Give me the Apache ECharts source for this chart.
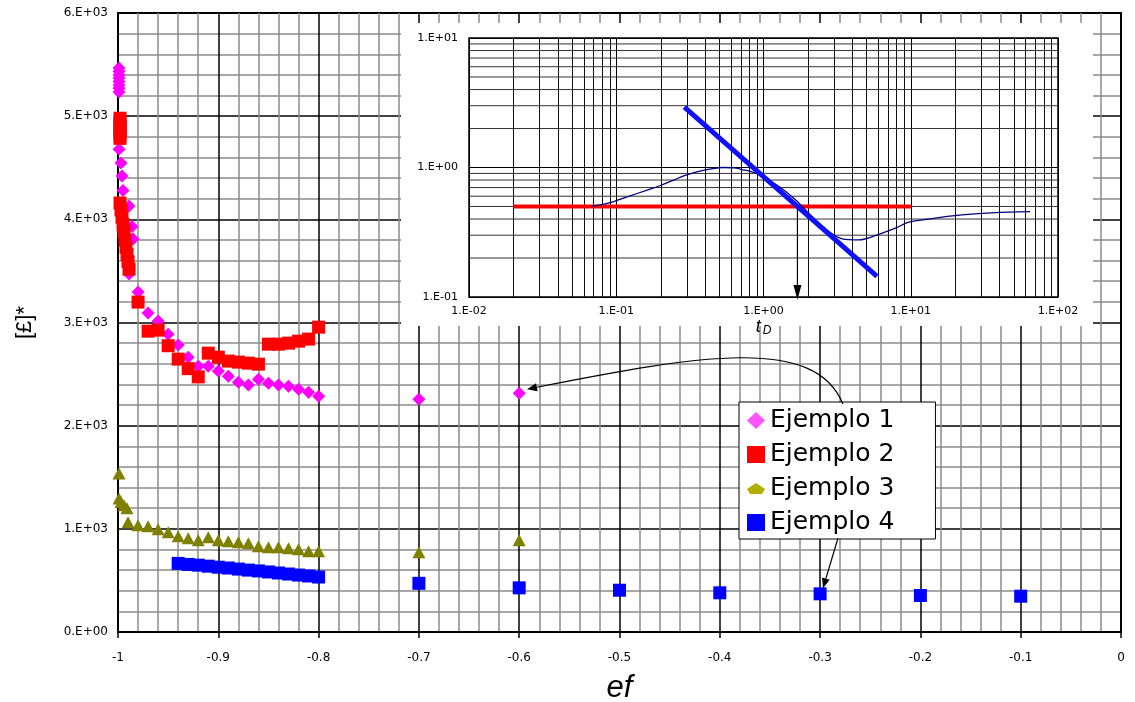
<!DOCTYPE html>
<html><head><meta charset="utf-8">
<script src="https://cdn.jsdelivr.net/npm/echarts@6/dist/echarts.min.js"></script>
<style>html,body{margin:0;padding:0;background:#fff}#c{width:1135px;height:702px}</style>
</head><body><div id="c"></div>
<script>
// ---- data ----
const seriesNames = ['Ejemplo 1', 'Ejemplo 2', 'Ejemplo 3', 'Ejemplo 4'];
const yTickLabels = ['0.E+00', '1.E+03', '2.E+03', '3.E+03', '4.E+03', '5.E+03', '6.E+03'];
const insetXLabels = ['1.E-02', '1.E-01', '1.E+00', '1.E+01', '1.E+02'];
const insetYLabels = ['1.E-01', '1.E+00', '1.E+01'];

const ej1 = [[-0.999,5468],[-0.999,5435],[-0.999,5400],[-0.999,5370],[-0.999,5335],[-0.999,5300],[-0.999,5270],[-0.999,5235],
  [-0.999,4680],[-0.997,4545],[-0.996,4420],[-0.995,4280],[-0.989,4130],[-0.986,3930],[-0.985,3810],[-0.989,3470],
  [-0.98,3295],[-0.97,3091],[-0.96,3014],[-0.95,2887],[-0.94,2781],[-0.93,2664],[-0.92,2577],[-0.91,2577],[-0.90,2529],
  [-0.89,2480],[-0.88,2422],[-0.87,2393],[-0.86,2451],[-0.85,2412],[-0.84,2393],[-0.83,2383],[-0.82,2354],[-0.81,2325],
  [-0.80,2286],[-0.7,2257],[-0.6,2315]];
const ej2 = [[-0.998,4980],[-0.998,4950],[-0.998,4915],[-0.998,4880],[-0.998,4850],[-0.998,4815],[-0.998,4785],
  [-0.998,4158],[-0.997,4090],[-0.996,4020],[-0.995,3950],[-0.994,3880],[-0.993,3800],[-0.992,3730],[-0.991,3660],
  [-0.990,3590],[-0.989,3517],
  [-0.98,3198],[-0.97,2916],[-0.96,2926],[-0.95,2775],[-0.94,2645],[-0.93,2553],[-0.92,2473],[-0.91,2703],[-0.90,2664],
  [-0.89,2626],[-0.88,2616],[-0.87,2606],[-0.86,2596],[-0.85,2790],[-0.84,2790],[-0.83,2800],[-0.82,2819],[-0.81,2839],
  [-0.80,2955]];
const ej3 = [[-0.999,1536],[-0.999,1294],[-0.997,1261],[-0.994,1229],[-0.991,1200],
  [-0.99,1064],[-0.98,1035],[-0.97,1025],[-0.96,996],[-0.95,967],[-0.94,928],[-0.93,909],[-0.92,889],[-0.91,918],
  [-0.90,889],[-0.89,880],[-0.88,870],[-0.87,860],[-0.86,831],[-0.85,822],[-0.84,822],[-0.83,812],[-0.82,802],
  [-0.81,783],[-0.80,783],[-0.7,773],[-0.6,889]];
const ej4 = [[-0.94,665],[-0.93,655],[-0.92,648],[-0.91,638],[-0.90,628],[-0.89,620],[-0.88,610],[-0.87,600],
  [-0.86,592],[-0.85,582],[-0.84,572],[-0.83,562],[-0.82,552],[-0.81,543],[-0.80,533],
  [-0.7,472],[-0.6,428],[-0.5,405],[-0.4,380],[-0.3,370],[-0.2,354],[-0.1,347]];

// inset (log-log) data
const insetRedLine = [[0.02,0.5],[10,0.5]];
const insetBlueLine = [[0.29,2.93],[5.9,0.144]];
const insetCurve = [[0.068,0.5],[0.0878,0.53],[0.12,0.596],[0.164,0.672],[0.2,0.726],[0.248,0.803],[0.29,0.867],
  [0.357,0.931],[0.44,0.977],[0.54,1.0],[0.632,0.995],[0.72,0.96],[0.8,0.94],[0.983,0.852],[1.275,0.713],
  [1.654,0.562],[2.14,0.418],[2.78,0.32],[3.42,0.281],[4.44,0.276],[6.06,0.305],[7.87,0.34],[9.68,0.378],
  [13.2,0.40],[22.2,0.43],[37.4,0.449],[64.6,0.457]];
const insetArrow = [[1.7,0.5,1.7,0.5,1.7,0.5,1.7,0.095]];

// annotation arrows in main chart: start, ctrl1, ctrl2, end(head)
const mainArrows = [
  [-0.2772,2209, -0.3051,2878, -0.4197,2684, -0.5922,2354],
  [-0.2822,909, -0.2822,909, -0.2822,909, -0.2971,424]
];

// ---- chart ----
function makeArrowRender(headLen, headHalf, lw) {
  return function (params, api) {
    const a = api.coord([api.value(0), api.value(1)]);
    const c1 = api.coord([api.value(2), api.value(3)]);
    const c2 = api.coord([api.value(4), api.value(5)]);
    const b = api.coord([api.value(6), api.value(7)]);
    const dx = b[0] - c2[0], dy = b[1] - c2[1];
    const len = Math.hypot(dx, dy) || 1;
    const ux = dx / len, uy = dy / len;
    const base = [b[0] - ux * headLen, b[1] - uy * headLen];
    const pts = [b, [base[0] - uy * headHalf, base[1] + ux * headHalf], [base[0] + uy * headHalf, base[1] - ux * headHalf]];
    return {
      type: 'group',
      children: [
        { type: 'bezierCurve', shape: { x1: a[0], y1: a[1], cpx1: c1[0], cpy1: c1[1], cpx2: c2[0], cpy2: c2[1], x2: base[0], y2: base[1] },
          style: { stroke: '#000', lineWidth: lw, fill: null } },
        { type: 'polygon', shape: { points: pts }, style: { fill: '#000' } }
      ]
    };
  };
}

// inset log grid lines (2..9 within each decade)
const insetGrid = [];
for (let e = -2; e < 2; e++) for (let m = 2; m <= 9; m++) { const v = m * Math.pow(10, e); insetGrid.push([v, 0.1, v, 10]); }
for (let e = -1; e < 1; e++) for (let m = 2; m <= 9; m++) { const v = m * Math.pow(10, e); insetGrid.push([0.01, v, 100, v]); }

function gridLineRender(params, api) {
  const p1 = api.coord([api.value(0), api.value(1)]);
  const p2 = api.coord([api.value(2), api.value(3)]);
  const vert = Math.abs(p1[0] - p2[0]) < 0.5;
  return { type: 'line', shape: { x1: Math.round(p1[0]) + 0.5, y1: p1[1], x2: Math.round(p2[0]) + (vert ? 0.5 : 0), y2: p2[1] },
    style: { stroke: vert ? '#111' : '#333', lineWidth: 1 } };
}

const chart = echarts.init(document.getElementById('c'), null, { renderer: 'canvas' });
const FF = 'DejaVu Sans';
chart.setOption({
  animation: false,
  backgroundColor: '#fff',
  grid: [
    { left: 118, right: 14, top: 13, bottom: 70, outerBoundsMode: 'none', containLabel: false,
      show: true, borderColor: '#000', borderWidth: 2 },
    { left: 469, right: 77, top: 38, bottom: 405, outerBoundsMode: 'none', containLabel: false,
      show: true, borderColor: '#000', borderWidth: 1.5, backgroundColor: '#fff', zlevel: 1, z: 1 }
  ],
  graphic: [
    { type: 'rect', zlevel: 1, z: 0, shape: { x: 401, y: 23, width: 692, height: 303 }, style: { fill: '#fff' } }
  ],
  legend: {
    left: 739, top: 402, orient: 'vertical', backgroundColor: '#fff', borderColor: '#000', borderWidth: 1,
    padding: [6, 41, 4, 8], itemGap: 9, itemWidth: 18, itemHeight: 17, selectedMode: false,
    textStyle: { fontFamily: FF, fontSize: 25, color: '#000', lineHeight: 25 },
    data: [
      { name: seriesNames[0], icon: 'diamond', itemStyle: { color: '#FF55FF' } },
      { name: seriesNames[1], icon: 'rect', itemStyle: { color: '#FF0000' } },
      { name: seriesNames[2], icon: 'path://M0,6 L9,0 L18,6 L15,11 L3,11 Z', itemStyle: { color: '#B3AE00' } },
      { name: seriesNames[3], icon: 'rect', itemStyle: { color: '#0000FF' } }
    ]
  },
  xAxis: [
    { type: 'value', gridIndex: 0, min: -1, max: 0, interval: 0.1,
      name: 'ef', nameLocation: 'middle', nameGap: 41,
      nameTextStyle: { fontFamily: 'Liberation Sans', fontStyle: 'italic', fontSize: 31, color: '#000' },
      axisLine: { show: true, onZero: false, lineStyle: { color: '#000', width: 2 } },
      axisTick: { show: true, length: 6, lineStyle: { color: '#000', width: 1.5 } },
      axisLabel: { margin: 20, fontFamily: FF, fontSize: 12, color: '#000' },
      splitLine: { show: true, lineStyle: { color: '#000', width: 1.5 } },
      minorTick: { show: false, splitNumber: 5 },
      minorSplitLine: { show: true, lineStyle: { color: '#8c8c8c', width: 1.5 } } },
    { type: 'log', gridIndex: 1, logBase: 10, min: 0.01, max: 100, splitNumber: 4, zlevel: 1, z: 2,
      name: '{t|t}{d|D}', nameLocation: 'middle', nameGap: 20,
      nameTextStyle: { rich: {
        t: { fontFamily: 'Liberation Sans', fontStyle: 'italic', fontSize: 18, color: '#000', lineHeight: 20 },
        d: { fontFamily: 'Liberation Sans', fontStyle: 'italic', fontSize: 12, color: '#000', verticalAlign: 'bottom', padding: [8, 0, 0, 2] } } },
      axisLine: { show: false }, axisTick: { show: false },
      axisLabel: { margin: 9, fontFamily: FF, fontSize: 11, color: '#000',
        formatter: v => insetXLabels[Math.round(Math.log10(v)) + 2] },
      splitLine: { show: true, lineStyle: { color: '#000', width: 1 } } }
  ],
  yAxis: [
    { type: 'value', gridIndex: 0, min: 0, max: 6000, interval: 1000,
      name: '[£]*', nameLocation: 'middle', nameGap: 82, nameRotate: 90,
      nameTextStyle: { fontFamily: 'Liberation Sans', fontSize: 22, color: '#000' },
      axisLine: { show: true, lineStyle: { color: '#000', width: 2 } },
      axisTick: { show: false },
      axisLabel: { margin: 10, fontFamily: FF, fontSize: 12, color: '#000',
        formatter: v => yTickLabels[Math.round(v / 1000)] },
      splitLine: { show: true, lineStyle: { color: '#000', width: 1.5 } },
      minorTick: { show: false, splitNumber: 5 },
      minorSplitLine: { show: true, lineStyle: { color: '#8c8c8c', width: 1.5 } } },
    { type: 'log', gridIndex: 1, logBase: 10, min: 0.1, max: 10, splitNumber: 2, zlevel: 1, z: 2,
      axisLine: { show: false }, axisTick: { show: false },
      axisLabel: { margin: 11, fontFamily: FF, fontSize: 11, color: '#000',
        formatter: v => insetYLabels[Math.round(Math.log10(v)) + 1] },
      splitLine: { show: true, lineStyle: { color: '#000', width: 1 } } }
  ],
  series: [
    { name: seriesNames[0], type: 'scatter', data: ej1, symbol: 'diamond', symbolSize: 13,
      itemStyle: { color: '#FF00FF', opacity: 1 }, z: 3 },
    { name: seriesNames[1], type: 'scatter', data: ej2, symbol: 'rect', symbolSize: 13,
      itemStyle: { color: '#FF0000', opacity: 1 }, z: 4 },
    { name: seriesNames[2], type: 'scatter', data: ej3, symbol: 'triangle', symbolSize: [13, 12],
      itemStyle: { color: '#808000', opacity: 1 }, z: 3 },
    { name: seriesNames[3], type: 'scatter', data: ej4, symbol: 'rect', symbolSize: 13,
      itemStyle: { color: '#0000FF', opacity: 1 }, z: 3 },
    { type: 'custom', name: 'annot', data: mainArrows, renderItem: makeArrowRender(10, 4, 1.2),
      encode: { x: [0, 2, 4, 6], y: [1, 3, 5, 7] }, z: 5, silent: true },
    // inset
    { type: 'custom', xAxisIndex: 1, yAxisIndex: 1, data: insetGrid, renderItem: gridLineRender,
      encode: { x: [0, 2], y: [1, 3] }, zlevel: 1, z: 2, silent: true },
    { type: 'line', xAxisIndex: 1, yAxisIndex: 1, data: insetRedLine, zlevel: 1, z: 4, symbol: 'none',
      lineStyle: { color: '#FF0000', width: 4 }, silent: true },
    { type: 'line', xAxisIndex: 1, yAxisIndex: 1, data: insetCurve, zlevel: 1, z: 5, symbol: 'none', smooth: 0.3,
      lineStyle: { color: '#000080', width: 1.3 }, silent: true },
    { type: 'line', xAxisIndex: 1, yAxisIndex: 1, data: insetBlueLine, zlevel: 1, z: 6, symbol: 'none',
      lineStyle: { color: '#1010FF', width: 5 }, silent: true },
    { type: 'custom', xAxisIndex: 1, yAxisIndex: 1, data: insetArrow, renderItem: makeArrowRender(15, 4, 1.2),
      encode: { x: [0, 2, 4, 6], y: [1, 3, 5, 7] }, zlevel: 1, z: 7, silent: true }
  ]
});
</script></body></html>
